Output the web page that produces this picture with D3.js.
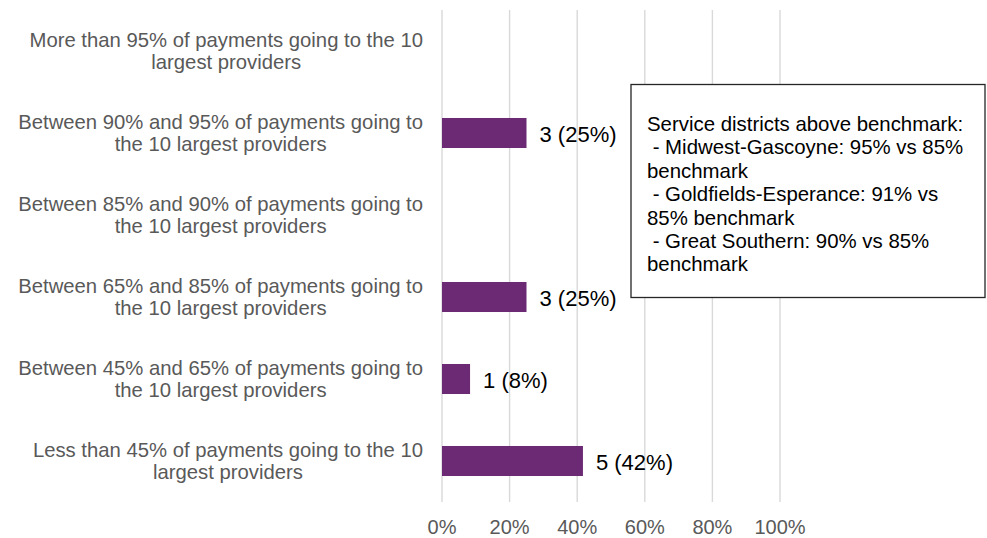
<!DOCTYPE html>
<html>
<head>
<meta charset="utf-8">
<script src="https://cdn.jsdelivr.net/npm/d3@7"></script>
<style>
  html, body { margin: 0; padding: 0; background: #fff; }
  svg { display: block; font-family: "Liberation Sans", Arial, sans-serif; }
</style>
</head>
<body>
<svg id="chart" width="987" height="538"></svg>
<script>
// ---- data ----
const categories = [
  "More than 95% of payments going to the 10 largest providers",
  "Between 90% and 95% of payments going to the 10 largest providers",
  "Between 85% and 90% of payments going to the 10 largest providers",
  "Between 65% and 85% of payments going to the 10 largest providers",
  "Between 45% and 65% of payments going to the 10 largest providers",
  "Less than 45% of payments going to the 10 largest providers"
];
const counts = [0, 3, 0, 3, 1, 5];
const percents = [0, 25, 0, 25, 8.3, 41.7];
const tickValues = [0, 20, 40, 60, 80, 100];
const tickLabels = ["0%", "20%", "40%", "60%", "80%", "100%"];
const noteLines = [
  "Service districts above benchmark:",
  " - Midwest-Gascoyne: 95% vs 85%",
  "benchmark",
  " - Goldfields-Esperance: 91% vs",
  "85% benchmark",
  " - Great Southern: 90% vs 85%",
  "benchmark"
];

// ---- layout ----
const svg = d3.select("#chart");
const plotTop = 10, plotBottom = 502;
const x = d3.scaleLinear().domain([0, 100]).range([442, 780]);
const y = d3.scaleBand().domain(categories).range([plotTop, plotBottom])
  .paddingInner(0.634).paddingOuter(0.317);

// gridlines
svg.append("g").selectAll("line").data(tickValues).join("line")
  .attr("x1", d => x(d)).attr("x2", d => x(d))
  .attr("y1", plotTop).attr("y2", plotBottom)
  .attr("stroke", "#d9d9d9").attr("stroke-width", 1.4);

// tick labels
svg.append("g").selectAll("text").data(tickValues).join("text")
  .attr("x", d => x(d)).attr("y", 533.5)
  .attr("text-anchor", "middle")
  .attr("font-size", 20).attr("fill", "#595959")
  .text((d, i) => tickLabels[i]);

// bars
const rows = categories.map((c, i) => ({ c, count: counts[i], pct: percents[i] }));
svg.append("g").selectAll("rect").data(rows.filter(r => r.count > 0)).join("rect")
  .attr("x", x(0)).attr("y", d => y(d.c))
  .attr("width", d => x(d.pct) - x(0)).attr("height", y.bandwidth())
  .attr("fill", "#6b2a73");

// value labels
svg.append("g").selectAll("text").data(rows.filter(r => r.count > 0)).join("text")
  .attr("x", d => x(d.pct) + 13)
  .attr("y", d => y(d.c) + y.bandwidth() / 2 + 9)
  .attr("font-size", 22).attr("fill", "#000")
  .text(d => `${d.count} (${Math.round(d.pct)}%)`);

// category labels (wrapped, centred lines, block right-aligned)
const labelRight = 423, wrapWidth = 415;
const catG = svg.append("g");
categories.forEach(c => {
  const words = c.split(" ");
  const t = catG.append("text").attr("font-size", 20.3).attr("fill", "#595959")
    .attr("text-anchor", "middle");
  const lines = [];
  let cur = [];
  const probe = t.append("tspan");
  words.forEach(w => {
    const trial = cur.concat([w]).join(" ");
    probe.text(trial);
    if (probe.node().getComputedTextLength() > wrapWidth && cur.length) {
      lines.push(cur.join(" "));
      cur = [w];
    } else cur.push(w);
  });
  lines.push(cur.join(" "));
  probe.remove();
  let maxW = 0;
  lines.forEach(l => {
    const p = t.append("tspan").text(l);
    maxW = Math.max(maxW, p.node().getComputedTextLength());
    p.remove();
  });
  const cx = labelRight - maxW / 2;
  const cy = y(c) + y.bandwidth() / 2;
  const lh = 22;
  const first = cy + 7 - (lines.length - 1) * lh / 2;
  lines.forEach((l, i) => {
    t.append("tspan").attr("x", cx).attr("y", first + i * lh).text(l);
  });
});

// annotation box
const box = svg.append("g");
box.append("rect").attr("x", 631).attr("y", 84.5).attr("width", 354).attr("height", 213)
  .attr("fill", "#fff").attr("stroke", "#262626").attr("stroke-width", 1.3);
const noteText = box.append("text").attr("font-size", 20.4).attr("fill", "#000")
  .attr("xml:space", "preserve").style("white-space", "pre");
noteLines.forEach((l, i) => {
  noteText.append("tspan").attr("x", 647).attr("y", 131 + i * 23.4).text(l);
});
</script>
</body>
</html>
